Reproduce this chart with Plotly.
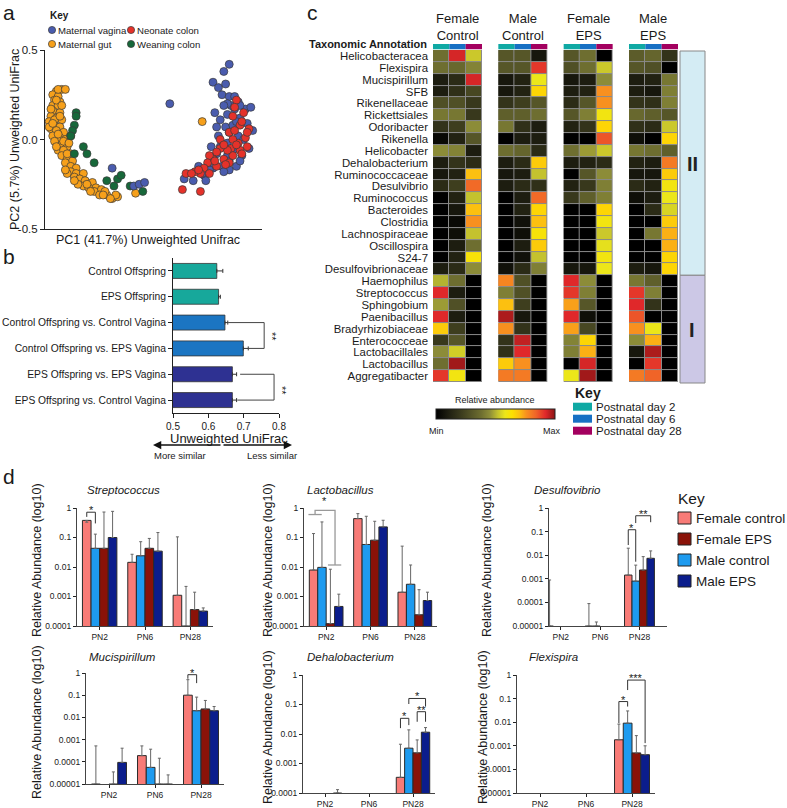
import math
import numpy as np
import plotly.graph_objects as go

W, H = 787, 808
FONT = "Liberation Sans, Arial, Helvetica, sans-serif"
INK = "#1a1a1a"


def px(x):
    return x / W


def py(y):
    return 1 - y / H


def xdom(a, b):
    return [a / W, b / W]


def ydom(t, b):
    return [1 - b / H, 1 - t / H]


# ---------------- Panel a data (PC1, PC2) ----------------
maternal_gut = [(-0.49, 0.28), (-0.52, 0.27), (-0.54, 0.25), (-0.51, 0.24), (-0.53, 0.22), (-0.50, 0.21),
                (-0.54, 0.19), (-0.51, 0.19), (-0.54, 0.16), (-0.50, 0.15), (-0.55, 0.13), (-0.52, 0.12),
                (-0.49, 0.11), (-0.56, 0.10), (-0.53, 0.08), (-0.50, 0.07), (-0.55, 0.06), (-0.52, 0.05),
                (-0.48, 0.04), (-0.54, 0.02), (-0.50, 0.01), (-0.47, 0.00), (-0.53, -0.01), (-0.49, -0.03),
                (-0.46, -0.04), (-0.51, -0.06), (-0.48, -0.06), (-0.44, -0.08), (-0.49, -0.09), (-0.46, -0.11),
                (-0.43, -0.12), (-0.47, -0.13), (-0.44, -0.15), (-0.41, -0.16), (-0.44, -0.18), (-0.41, -0.19),
                (-0.37, -0.19), (-0.42, -0.21), (-0.39, -0.22), (-0.36, -0.23), (-0.32, -0.24), (-0.37, -0.26),
                (-0.34, -0.27), (-0.30, -0.27), (-0.27, -0.28), (-0.31, -0.29), (-0.28, -0.31), (-0.24, -0.31),
                (-0.21, -0.33), (-0.18, -0.32), (-0.19, -0.31), (-0.08, -0.30), (0.29, 0.10), (-0.44, 0.02),
                (-0.56, 0.07), (-0.53, 0.11), (-0.46, -0.19), (-0.40, -0.25), (-0.25, -0.29), (-0.22, -0.33),
                (-0.51, 0.28), (-0.47, 0.28), (-0.55, 0.17), (-0.52, 0.22), (-0.49, 0.19), (-0.50, 0.13),
                (-0.54, 0.09), (-0.51, 0.03), (-0.48, -0.01), (-0.52, -0.04), (-0.46, -0.08), (-0.45, -0.02),
                (-0.47, -0.17), (-0.42, -0.23), (-0.35, -0.25), (-0.33, -0.29), (-0.26, -0.31)]
weaning_colon = [(-0.41, 0.15), (-0.41, 0.13), (-0.42, 0.08), (-0.43, 0.05), (-0.44, 0.02), (-0.37, -0.04),
                 (-0.35, -0.08), (-0.42, -0.08), (-0.31, -0.13), (-0.24, -0.23), (-0.18, -0.22), (-0.16, -0.20),
                 (-0.20, -0.26), (-0.11, -0.26), (-0.04, -0.29)]
maternal_vagina = [(0.11, 0.20), (0.44, 0.42), (0.41, 0.38), (0.35, 0.32), (0.38, 0.29), (0.42, 0.31),
                   (0.40, 0.25), (0.44, 0.24), (0.47, 0.24), (0.49, 0.21), (0.45, 0.19), (0.53, 0.17),
                   (0.56, 0.18), (0.36, 0.15), (0.39, 0.11), (0.43, 0.14), (0.47, 0.17), (0.50, 0.12),
                   (0.37, 0.07), (0.42, 0.07), (0.46, 0.08), (0.54, 0.09), (0.57, 0.05), (0.44, 0.04),
                   (0.49, 0.02), (0.52, 0.00), (0.39, -0.04), (0.43, -0.02), (0.46, -0.06), (0.37, -0.08),
                   (0.43, -0.09), (0.44, -0.12), (0.48, -0.15), (0.40, -0.15), (0.35, -0.16), (0.44, -0.17),
                   (0.27, -0.15), (0.30, -0.20), (0.24, -0.23), (0.19, -0.22), (0.31, -0.23), (-0.21, -0.16),
                   (-0.09, -0.26), (-0.06, -0.25), (-0.03, -0.24), (0.35, -0.10), (0.51, -0.09), (0.55, -0.05),
                   (0.43, 0.20), (0.50, 0.19), (0.41, 0.19), (0.48, 0.10), (0.38, 0.02), (0.34, -0.04),
                   (0.50, -0.12), (0.41, -0.18), (0.29, -0.19), (0.33, -0.17)]
neonate_colon = [(0.48, 0.22), (0.47, 0.18), (0.52, 0.15), (0.55, 0.06), (0.50, 0.08), (0.53, 0.01),
                 (0.49, -0.02), (0.54, -0.04), (0.46, 0.00), (0.45, -0.05), (0.50, -0.06), (0.51, -0.08),
                 (0.46, -0.09), (0.43, -0.06), (0.39, -0.05), (0.37, -0.07), (0.41, -0.11), (0.44, -0.13),
                 (0.35, -0.11), (0.33, -0.09), (0.32, -0.13), (0.37, -0.15), (0.30, -0.16), (0.33, -0.19),
                 (0.28, -0.19), (0.25, -0.18), (0.20, -0.19), (0.23, -0.19), (0.18, -0.28), (0.28, -0.29),
                 (0.39, 0.00), (0.44, 0.04), (0.47, 0.05), (0.54, 0.04), (0.46, 0.13), (0.51, 0.10),
                 (0.41, -0.03), (0.48, -0.03), (0.36, -0.12), (0.42, -0.14), (0.27, -0.17)]
a_series = [("Maternal gut", maternal_gut, "#f6a01b"), ("Weaning colon", weaning_colon, "#17683a"),
            ("Maternal vagina", maternal_vagina, "#4a5cae"), ("Neonate colon", neonate_colon, "#e5322a")]

# ---------------- Panel b data ----------------
b_labels = ["Control Offspring", "EPS Offspring", "Control Offspring vs. Control Vagina",
            "Control Offspring vs. EPS Vagina", "EPS Offspring vs. EPS Vagina", "EPS Offspring vs. Control Vagina"]
b_values = [0.624, 0.629, 0.647, 0.699, 0.668, 0.668]
b_err = [0.017, 0.005, 0.008, 0.014, 0.012, 0.012]
b_colors = ["#17a89b", "#17a89b", "#1b75c2", "#1b75c2", "#2e3192", "#2e3192"]

# ---------------- Panel c data ----------------
taxa = ["Helicobacteracea", "Flexispira", "Mucispirillum", "SFB", "Rikenellaceae", "Rickettsiales",
        "Odoribacter", "Rikenella", "Helicobacter", "Dehalobacterium", "Ruminococcaceae", "Desulvibrio",
        "Ruminococcus", "Bacteroides", "Clostridia", "Lachnospiraceae", "Oscillospira", "S24-7",
        "Desulfovibrionaceae", "Haemophilus", "Streptococcus", "Sphingobium", "Paenibacillus",
        "Bradyrhizobiaceae", "Enterococceae", "Lactobacillales", "Lactobacillus", "Aggregatibacter"]
c_blocks = ["Female<br>Control", "Male<br>Control", "Female<br>EPS", "Male<br>EPS"]
female_control = [[0.38, 0.93, 0.53], [0.38, 0.36, 0.43], [0.10, 0.15, 0.93], [0.10, 0.17, 0.25],
                  [0.28, 0.28, 0.20], [0.40, 0.40, 0.20], [0.18, 0.22, 0.45], [0.03, 0.12, 0.30],
                  [0.45, 0.43, 0.10], [0.10, 0.18, 0.15], [0.08, 0.12, 0.70], [0.15, 0.22, 0.83],
                  [0.00, 0.12, 0.52], [0.00, 0.08, 0.70], [0.00, 0.03, 0.76], [0.00, 0.05, 0.52],
                  [0.00, 0.10, 0.38], [0.00, 0.12, 0.62], [0.10, 0.15, 0.45], [0.50, 0.38, 0.00],
                  [0.92, 0.10, 0.00], [0.47, 0.28, 0.00], [0.92, 0.10, 0.00], [0.68, 0.22, 0.00],
                  [0.20, 0.30, 0.00], [0.45, 0.54, 0.00], [0.38, 0.98, 0.00], [0.90, 0.60, 0.00]]
male_control = [[0.30, 0.30, 0.08], [0.30, 0.30, 0.90], [0.08, 0.12, 0.58], [0.08, 0.12, 0.66],
                [0.18, 0.22, 0.30], [0.33, 0.33, 0.38], [0.40, 0.17, 0.10], [0.00, 0.10, 0.10],
                [0.38, 0.35, 0.15], [0.10, 0.15, 0.68], [0.08, 0.10, 0.52], [0.10, 0.15, 0.17],
                [0.00, 0.10, 0.83], [0.00, 0.12, 0.66], [0.00, 0.06, 0.70], [0.00, 0.05, 0.62],
                [0.00, 0.10, 0.68], [0.00, 0.06, 0.52], [0.06, 0.15, 0.42], [0.78, 0.28, 0.00],
                [0.42, 0.28, 0.00], [0.70, 0.22, 0.00], [0.97, 0.08, 0.00], [0.76, 0.18, 0.00],
                [0.18, 0.95, 0.00], [0.17, 0.92, 0.00], [0.68, 0.76, 0.00], [0.80, 0.80, 0.00]]
female_eps = [[0.30, 0.38, 0.00], [0.28, 0.38, 0.53], [0.08, 0.10, 0.45], [0.10, 0.12, 0.76],
              [0.15, 0.30, 0.76], [0.30, 0.42, 0.60], [0.12, 0.18, 0.66], [0.00, 0.00, 0.86],
              [0.38, 0.47, 0.53], [0.10, 0.12, 0.15], [0.00, 0.30, 0.45], [0.12, 0.20, 0.42],
              [0.20, 0.33, 0.42], [0.00, 0.00, 0.66], [0.00, 0.00, 0.60], [0.00, 0.00, 0.53],
              [0.00, 0.00, 0.57], [0.00, 0.00, 0.60], [0.08, 0.08, 0.58], [0.92, 0.45, 0.00],
              [0.90, 0.42, 0.00], [0.74, 0.30, 0.00], [0.92, 0.05, 0.00], [0.74, 0.25, 0.00],
              [0.43, 0.66, 0.00], [0.42, 0.72, 0.00], [0.00, 0.93, 0.00], [0.58, 0.98, 0.00]]
male_eps = [[0.32, 0.35, 0.18], [0.30, 0.28, 0.00], [0.10, 0.12, 0.40], [0.10, 0.08, 0.42],
            [0.18, 0.17, 0.42], [0.36, 0.33, 0.30], [0.17, 0.15, 0.53], [0.05, 0.00, 0.66],
            [0.40, 0.38, 0.33], [0.12, 0.10, 0.80], [0.08, 0.08, 0.68], [0.15, 0.12, 0.60],
            [0.05, 0.10, 0.58], [0.00, 0.15, 0.55], [0.00, 0.00, 0.68], [0.00, 0.40, 0.72],
            [0.00, 0.00, 0.72], [0.00, 0.00, 0.66], [0.10, 0.08, 0.66], [0.40, 0.33, 0.00],
            [0.90, 0.42, 0.00], [0.92, 0.18, 0.00], [0.86, 0.00, 0.00], [0.76, 0.58, 0.00],
            [0.45, 0.72, 0.00], [0.08, 0.97, 0.00], [0.00, 0.90, 0.00], [0.80, 0.84, 0.00]]
c_values = [female_control, male_control, female_eps, male_eps]
day_labels = ["Postnatal day 2", "Postnatal day 6", "Postnatal day 28"]
day_colors = ["#0fa9a4", "#1770c4", "#a3005f"]
group_II_rows = 19
heat_scale = [[0.00, "#000000"], [0.10, "#1d1d10"], [0.20, "#38381c"], [0.30, "#565628"],
              [0.38, "#6e6e30"], [0.45, "#8c8c38"], [0.52, "#c4c22e"], [0.58, "#ece61a"],
              [0.64, "#fde000"], [0.70, "#fcc010"], [0.76, "#f8901f"], [0.84, "#f06428"],
              [0.92, "#e0282a"], [1.00, "#8c1414"]]

# ---------------- Panel d data ----------------
d_groups = ["PN2", "PN6", "PN28"]
d_series = ["Female control", "Male control", "Female EPS", "Male EPS"]   # bar order
d_colors = {"Female control": "#f87b77", "Male control": "#1e9bef",
            "Female EPS": "#8a1208", "Male EPS": "#0b1d8c"}
key_order = ["Female control", "Female EPS", "Male control", "Male EPS"]

strep_mean = [[0.38, 0.0144, 0.0011], [0.043, 0.024, 0], [0.043, 0.043, 0.00036], [0.10, 0.0345, 0.00032]]
strep_top = [[0.33, 0.027, 0.105], [0.13, 0.072, 0.0022], [0.73, 0.093, 0.0014], [0.77, 0.147, 0.00041]]
lacto_mean = [[0.0079, 0.437, 0.0014], [0.0097, 0.058, 0.0026], [0.00012, 0.081, 0.00024], [0.00046, 0.229, 0.00073]]
lacto_top = [[0.136, 0.644, 0.051], [0.337, 0.524, 0.0117], [0.0084, 0.355, 0.0017], [0.0012, 0.384, 0.0014]]
desulfo_mean = [[0, 0, 0.00144], [0, 0, 0.0008], [0, 0, 0.00236], [0, 0, 0.0074]]
desulfo_top = [[0.00089, 0.000089, 0.0198], [None, 0.0000148, 0.0038], [None, None, 0.0087], [None, None, 0.0152]]
muci_mean = [[0, 0.00019, 0.10], [0, 0.000056, 0.02], [0, 0, 0.024], [0.000094, 0, 0.02]]
muci_top = [[0.00052, 0.00052, 0.5], [None, 0.00037, 0.082], [0.000035, 0.000145, 0.058], [0.00041, 0.0000257, 0.031]]
dehalo_mean = [[0, 0, 0.00034], [0, 0, 0.0033], [0, 0, 0.0023], [0, 0, 0.0115]]
dehalo_top = [[None, None, 0.0045], [None, None, 0.0138], [None, None, 0.0063], [0.00013, None, 0.0165]]
flexi_mean = [[0, 0, 0.0018], [0, 0, 0.0091], [0, 0, 0.0005], [0, 0, 0.00042]]
flexi_top = [[None, None, 0.0083], [None, None, 0.03], [None, None, 0.0027], [None, None, 0.001]]

# significance brackets: (group, bar_a, bar_b, y_left, y_top, y_right, label)
d_sig = {
    "Streptococcus": [(0, 0, 1, 0.5, 0.72, 0.3, "*")],
    "Lactobacillus": [],
    "Desulfovibrio": [(2, 0, 1, 0.027, 0.12, 0.0053, "*"), (2, 1, 3, 0.23, 0.47, 0.25, "**")],
    "Mucispirillum": [(2, 0, 1, 0.55, 0.84, 0.35, "*")],
    "Dehalobacterium": [(2, 0, 1, 0.0158, 0.034, 0.02, "*"), (2, 2, 3, 0.026, 0.057, 0.026, "**"),
                        (2, 1, 3, 0.104, 0.16, 0.085, "*")],
    "Flexispira": [(2, 0, 1, 0.0091, 0.075, 0.046, "*"), (2, 1, 3, 0.23, 0.61, 0.0013, "***")],
}

d_panels = [
    dict(name="Streptococcus", mean=strep_mean, top=strep_top, lo=-4, xp=(77, 213), yp=(508, 626),
         title=(123, 490), ylab=(37, 560), xr=(-0.5, 2.5)),
    dict(name="Lactobacillus", mean=lacto_mean, top=lacto_top, lo=-4, xp=(304, 437), yp=(508, 626),
         title=(340, 490), ylab=(268, 560), xr=(-0.5, 2.5)),
    dict(name="Desulfovibrio", mean=desulfo_mean, top=desulfo_top, lo=-5, xp=(549, 667), yp=(508, 626),
         title=(567, 490), ylab=(487, 560), xr=(-0.3, 2.7)),
    dict(name="Mucispirillum", mean=muci_mean, top=muci_top, lo=-5, xp=(86, 224), yp=(673, 784),
         title=(122, 657), ylab=(37, 722), xr=(-0.5, 2.5)),
    dict(name="Dehalobacterium", mean=dehalo_mean, top=dehalo_top, lo=-4, xp=(303, 435), yp=(675, 793),
         title=(350, 657), ylab=(268, 727), xr=(-0.5, 2.5)),
    dict(name="Flexispira", mean=flexi_mean, top=flexi_top, lo=-5, xp=(517, 655), yp=(675, 793),
         title=(553, 657), ylab=(483, 727), xr=(-0.5, 2.5)),
]
log_ticktext = ["1", "0.1", "0.01", "0.001", "0.0001", "0.00001"]

# ======================================================================
fig = go.Figure()
anns = []
shapes = []
layout = {}


def text(t, x, y, size=10, xa="center", ya="middle", bold=False, italic=False, angle=0, color=INK):
    if bold:
        t = "<b>" + t + "</b>"
    if italic:
        t = "<i>" + t + "</i>"
    anns.append(dict(text=t, x=px(x), y=py(y), xref="paper", yref="paper", xanchor=xa, yanchor=ya,
                     showarrow=False, textangle=angle, borderpad=0,
                     font=dict(size=size, color=color, family=FONT)))


def rect(x0, y0, x1, y1, fill, line="#333", lw=1, layer="above"):
    shapes.append(dict(type="rect", xref="paper", yref="paper", x0=px(x0), x1=px(x1), y0=py(y1), y1=py(y0),
                       fillcolor=fill, line=dict(color=line, width=lw), layer=layer))


def axis_common(**kw):
    d = dict(showgrid=False, zeroline=False, showline=True, linecolor="#222", linewidth=1,
             tickfont=dict(size=10, family=FONT, color=INK), ticks="outside", tickcolor="#222",
             ticklen=4, tickwidth=1, fixedrange=True)
    d.update(kw)
    return d


# panel labels
text("a", 9, 0, 21, ya="top")
text("b", 9, 257, 21)
text("c", 312, 0, 21, ya="top")
text("d", 9, 476, 21)

# ---------------- Panel a ----------------
for name, pts, col in a_series:
    fig.add_trace(go.Scatter(x=[p[0] for p in pts], y=[p[1] for p in pts], mode="markers", name=name,
                             marker=dict(size=8, color=col, line=dict(color="#3a3a3a", width=0.7)),
                             xaxis="x", yaxis="y", cliponaxis=False, hoverinfo="skip"))
layout["xaxis"] = axis_common(domain=xdom(45, 262), range=[-0.583, 0.622], showticklabels=False, ticks="",
                              anchor="y")
layout["yaxis"] = axis_common(domain=ydom(50, 229), range=[-0.5, 0.5], tickvals=[0.5, 0, -0.5],
                              ticktext=["0.5", "0.0", "-0.5"], anchor="x", tickfont=dict(size=11.5, family=FONT, color=INK))
text("PC1 (41.7%) Unweighted Unifrac", 148, 240, 12.5)
text("PC2 (5.7%) Unweighted UniFrac", 15, 140, 12.5, angle=-90)
text("Key", 49, 15, 10, xa="left", bold=True)
a_key = [("Maternal vagina", 52, 30), ("Neonate colon", 131, 30), ("Maternal gut", 52, 44), ("Weaning colon", 131, 44)]
a_cols = {n: c for n, _, c in a_series}
for nm, cx, cy in a_key:
    shapes.append(dict(type="circle", xref="paper", yref="paper", x0=px(cx - 3.6), x1=px(cx + 3.6),
                       y0=py(cy + 3.6), y1=py(cy - 3.6), fillcolor=a_cols[nm],
                       line=dict(color="#3a3a3a", width=0.7)))
    text(nm, cx + 4.5, cy, 9.6, xa="left")

# ---------------- Panel b ----------------
fig.add_trace(go.Bar(x=b_values, y=list(range(len(b_labels))), orientation="h", width=0.58,
                     marker=dict(color=b_colors, line=dict(color="#333", width=0.8)),
                     error_x=dict(type="data", symmetric=False, array=b_err, arrayminus=[0] * 6,
                                  color="#333", thickness=1, width=2),
                     xaxis="x2", yaxis="y2", hoverinfo="skip"))
layout["xaxis2"] = axis_common(domain=xdom(173, 279), range=[0.5, 0.8], tickvals=[0.5, 0.6, 0.7, 0.8],
                               ticktext=["0.5", "0.6", "0.7", "0.8"], anchor="y2")
layout["yaxis2"] = axis_common(domain=ydom(258, 413), range=[5.5, -0.5], tickvals=list(range(6)),
                               ticktext=b_labels, anchor="x2", tickfont=dict(size=10.3, family=FONT, color=INK))
b_br_x = [0.656, 0.758, 0.758, 0.713, None, 0.69, 0.786, 0.786, 0.682]
b_br_y = [2, 2, 3, 3, None, 4, 4, 5, 5]
fig.add_trace(go.Scatter(x=b_br_x, y=b_br_y, mode="lines", line=dict(color="#444", width=1),
                         xaxis="x2", yaxis="y2", cliponaxis=False, hoverinfo="skip"))
text("**", 272, 336, 11, angle=90)
text("**", 282, 390, 11, angle=90)
text("Unweighted UniFrac", 229, 438, 13)
for hx, off in [(153, 69), (292, -70)]:
    anns.append(dict(text="", x=px(hx), y=py(445), xref="paper", yref="paper", ax=off, ay=0,
                     showarrow=True, arrowhead=2, arrowsize=1.1, arrowwidth=1.5, arrowcolor="#111"))
text("More similar", 180, 456, 9.5)
text("Less similar", 272, 456, 9.5)

# ---------------- Panel c ----------------
n_rows = len(taxa)
for b, vals in enumerate(c_values):
    xs = [4 * b + c for c in range(3)]
    shapes.append(dict(type="rect", xref="x3", yref="y3", x0=4 * b - 0.5, x1=4 * b + 2.5, y0=-0.5,
                       y1=n_rows - 0.5, fillcolor="#8a8a8a", line=dict(width=0), layer="below"))
    fig.add_trace(go.Heatmap(z=vals, x=xs, y=list(range(n_rows)), colorscale=heat_scale, zmin=0, zmax=1,
                             xgap=1, ygap=1, showscale=(b == 0), hoverinfo="skip", xaxis="x3", yaxis="y3",
                             colorbar=dict(orientation="h", x=px(495.5), xanchor="center", y=py(420),
                                           yanchor="bottom", len=119, lenmode="pixels", thickness=10,
                                           thicknessmode="pixels", outlinewidth=1, outlinecolor="#222",
                                           showticklabels=False, ticks="", xpad=0, ypad=0)))
    for c in range(3):
        shapes.append(dict(type="rect", xref="x3", yref="y3", x0=4 * b + c - 0.5, x1=4 * b + c + 0.5,
                           y0=-1.0, y1=-0.56, fillcolor=day_colors[c], line=dict(width=0)))
    cx = 433 + (4 * b + 1) * (245 / 15) + 245 / 30
    text(c_blocks[b], cx, 27.5, 13)
layout["xaxis3"] = dict(domain=xdom(433, 678), range=[-0.5, 14.5], visible=False, anchor="y3", fixedrange=True)
layout["yaxis3"] = dict(domain=ydom(43.5, 382), range=[n_rows - 0.5, -1.05], tickvals=list(range(n_rows)),
                        ticktext=taxa, ticks="", showline=False, showgrid=False, zeroline=False,
                        tickfont=dict(size=11.4, family=FONT, color=INK), anchor="x3", ticklabelstandoff=4,
                        fixedrange=True)
text("Taxonomic Annotation", 428, 44, 11, xa="right", bold=True)
row_h = (382 - 50) / n_rows
y_split = 50 + group_II_rows * row_h
rect(680, 51, 705, y_split, "#d4ecf4", line="#888", lw=1)
rect(680, y_split, 705, 383, "#ccc8e6", line="#888", lw=1)
text("II", 692, (51 + y_split) / 2 + 0.5, 20, bold=True, color="#222")
text("I", 692, (y_split + 383) / 2 + 0.5, 20, bold=True, color="#222")
text("Relative abundance", 495, 400, 9)
text("Min", 436, 431, 9)
text("Max", 552, 431, 9)
text("Key", 574, 393, 14, xa="left", bold=True)
for i, (lab, col) in enumerate(zip(day_labels, day_colors)):
    yc = 406.7 + i * 12
    rect(573, yc - 4, 592, yc + 4, col, line=col, lw=0)
    text(lab, 595, yc, 11.5, xa="left")

# ---------------- Panel d ----------------
BARGAP = 0.24
wgrp = 1 - BARGAP
offs = [-wgrp / 2 + wgrp / 8 + i * wgrp / 4 for i in range(4)]


def ypix(P, v):
    t, b = P["yp"]
    return t + (-math.log10(v)) / (-P["lo"]) * (b - t)


def star(P, xa, x, v, lab):
    anns.append(dict(text=lab, x=x, y=py(ypix(P, v) - 2), xref=xa, yref="paper", xanchor="center",
                     yanchor="middle", showarrow=False, borderpad=0,
                     font=dict(size=11, family=FONT, color=INK)))


for k, P in enumerate(d_panels):
    n = 4 + k
    xa, ya = "x%d" % n, "y%d" % n
    floor = 10.0 ** P["lo"]
    for si, sname in enumerate(d_series):
        means = P["mean"][si]
        tops = P["top"][si]
        ys = np.array([m if m > 0 else (floor if t is not None else np.nan) for m, t in zip(means, tops)],
                      dtype=float)
        errs = np.array([(t - y) if t is not None else np.nan for t, y in zip(tops, ys)], dtype=float)
        errm = np.where(np.isnan(errs), np.nan, 0.0)
        fig.add_trace(go.Bar(x=[0, 1, 2], y=ys, name=sname,
                             marker=dict(color=d_colors[sname], line=dict(color="#2a2a2a", width=1)),
                             error_y=dict(type="data", symmetric=False, array=errs, arrayminus=errm,
                                          color="#666", thickness=1, width=1.5),
                             xaxis=xa, yaxis=ya, hoverinfo="skip"))
    bx, by = [], []
    for g, a, b2, yl, yt, yr, lab in d_sig[P["name"]]:
        x1, x2 = g + offs[a], g + offs[b2]
        bx += [x1, x1, x2, x2, None]
        by += [yl, yt, yt, yr, None]
        star(P, xa, (x1 + x2) / 2, yt, lab)
    if bx:
        fig.add_trace(go.Scatter(x=bx, y=by, mode="lines", line=dict(color="#333", width=1),
                                 xaxis=xa, yaxis=ya, cliponaxis=False, hoverinfo="skip"))
    nd = -P["lo"] + 1
    layout["xaxis%d" % n] = axis_common(domain=xdom(*P["xp"]), range=list(P["xr"]), tickvals=[0, 1, 2],
                                        ticktext=d_groups, anchor=ya, ticklen=3, linewidth=1.3,
                                        linecolor="#444", tickfont=dict(size=8.5, family=FONT, color=INK))
    layout["yaxis%d" % n] = axis_common(domain=ydom(*P["yp"]), type="log", range=[P["lo"], 0],
                                        tickvals=[10.0 ** (-i) for i in range(nd)], ticktext=log_ticktext[:nd],
                                        anchor=xa, ticklen=3, linewidth=1.3, linecolor="#444",
                                        tickfont=dict(size=8.5, family=FONT, color=INK))
    text(P["name"], P["title"][0], P["title"][1], 11.5, italic=True)
    text("Relative Abundance (log10)", P["ylab"][0], P["ylab"][1], 12.5, angle=-90)

# Lactobacillus special bracket (grey)
lacto_sig_x = [-0.40, -0.10, None, -0.25, -0.25, 0.2, 0.2, None, 0.04, 0.34]
lacto_sig_y = [0.6, 0.6, None, 0.6, 0.83, 0.83, 0.0117, None, 0.0117, 0.0117]
fig.add_trace(go.Scatter(x=lacto_sig_x, y=lacto_sig_y, mode="lines", line=dict(color="#999", width=1.3),
                         xaxis="x5", yaxis="y5", cliponaxis=False, hoverinfo="skip"))
star(d_panels[1], "x5", -0.03, 1.5, "*")

# key for panel d
text("Key", 677, 498, 15.5, xa="left")
for i, nm in enumerate(key_order):
    yc = 518 + i * 21
    rect(678, yc - 6, 691, yc + 6, d_colors[nm], line="#222", lw=1)
    text(nm, 695, yc, 13.5, xa="left")

layout.update(dict(width=W, height=H, margin=dict(l=0, r=0, t=0, b=0, autoexpand=False),
                   paper_bgcolor="white", plot_bgcolor="white", showlegend=False,
                   barmode="group", bargap=BARGAP, bargroupgap=0,
                   font=dict(family=FONT, color=INK), annotations=anns, shapes=shapes))
fig.update_layout(**layout)
fig.write_html("out.html", config={"displayModeBar": False},
               post_script="document.body.style.margin='0px';document.body.style.overflow='hidden';")
